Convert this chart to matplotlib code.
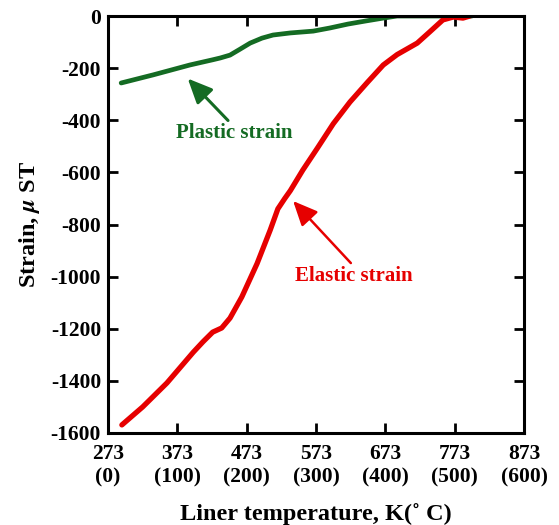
import numpy as np
import matplotlib
matplotlib.use('Agg')
import matplotlib.pyplot as plt

# datos (temperatura en K, deformacion en micro-strain)
plastic_T = [292, 338, 391, 424, 435, 449, 463, 478, 495, 511, 536, 569, 593, 619, 645, 670, 690, 740, 798]
plastic_s = [-257, -226, -188, -168, -161, -150, -128, -104, -85, -73, -65, -58, -46, -31, -19, -8, 0, 0, 0]

elastic_T = [293, 323, 358, 396, 410, 424, 437, 449, 466, 488, 507, 518, 528, 536, 554, 575,
             598, 622, 647, 670, 690, 719, 737, 756, 771, 785, 795]
elastic_s = [-1569, -1500, -1408, -1290, -1250, -1213, -1197, -1159, -1078, -950, -821, -740,
             -700, -670, -591, -507, -413, -330, -255, -188, -148, -104, -61, -15, -4, -8, 0]

xticks = [273, 373, 473, 573, 673, 773, 873]
xtick_labels = ['273\n(0)', '373\n(100)', '473\n(200)', '573\n(300)', '673\n(400)', '773\n(500)', '873\n(600)']
yticks = [0, -200, -400, -600, -800, -1000, -1200, -1400, -1600]

plt.rcParams['font.family'] = ['Liberation Serif', 'DejaVu Serif']
plt.rcParams['font.weight'] = 'bold'
plt.rcParams['mathtext.fontset'] = 'stix'

green = '#146b23'
red = '#e60000'

fig = plt.figure(figsize=(5.59, 5.25), dpi=100)
ax = fig.add_axes([108 / 559, 1 - 433 / 525, 416 / 559, 417 / 525])

ax.plot(plastic_T, plastic_s, color=green, lw=3.4, solid_capstyle='round', solid_joinstyle='round')
ax.plot(elastic_T, elastic_s, color=red, lw=3.8, solid_capstyle='round', solid_joinstyle='round')

ax.set_xlim(273, 873)
ax.set_ylim(-1600, 0)
ax.set_xticks(xticks)
ax.set_xticklabels(xtick_labels, fontsize=15.5, fontweight='bold', linespacing=1.25)
ax.set_yticks(yticks)
ax.set_yticklabels([str(v) for v in yticks], fontsize=15.5, fontweight='bold')
ax.tick_params(axis='both', direction='in', length=7, width=2, top=True, right=True,
               labeltop=False, labelright=False)
ax.tick_params(axis='x', pad=8)
ax.tick_params(axis='y', pad=5)
for s in ax.spines.values():
    s.set_linewidth(2.2)

ax.set_xlabel('Liner temperature, K(˚ C)', fontsize=17.5, fontweight='bold', labelpad=11)
ax.set_ylabel('Strain, $\\mu$ ST', fontsize=17.5, fontweight='bold', labelpad=6)

# anotaciones con flechas
ax.annotate('Plastic strain', xy=(388, -240), xytext=(455, -450),
            color=green, fontsize=15, fontweight='bold', ha='center', va='center',
            arrowprops=dict(arrowstyle='-|>,head_length=1.0,head_width=0.45', color=green, lw=2.2,
                            shrinkA=0, shrinkB=0, relpos=(0.47, 1.0)))
ax.annotate('Elastic strain', xy=(540, -710), xytext=(627, -997),
            color=red, fontsize=15, fontweight='bold', ha='center', va='center',
            arrowprops=dict(arrowstyle='-|>,head_length=1.0,head_width=0.45', color=red, lw=1.8,
                            shrinkA=0, shrinkB=0, relpos=(0.5, 1.0)))

fig.savefig('out.png', dpi=100)
